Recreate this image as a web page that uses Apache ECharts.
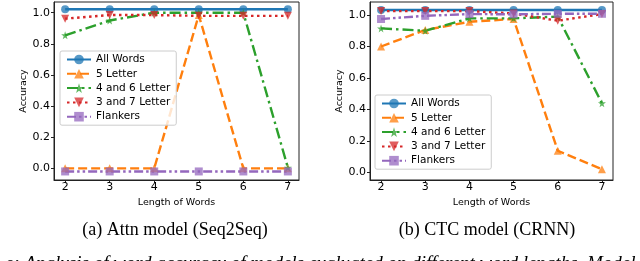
<!DOCTYPE html>
<html>
<head>
<meta charset="utf-8">
<script src="https://cdn.jsdelivr.net/npm/echarts@6/dist/echarts.min.js"></script>
<style>
html,body{margin:0;padding:0;background:#fff;}
#c{width:640px;height:261px;}
</style>
</head>
<body>
<div id="c"></div>
<script>
// ---- data ----
const lengths = [2, 3, 4, 5, 6, 7];
const xTicks = [2, 3, 4, 5, 6, 7];
const yTicks = [0, 0.2, 0.4, 0.6, 0.8, 1.0];
const seriesNames = ['All Words', '5 Letter', '4 and 6 Letter', '3 and 7 Letter', 'Flankers'];

const attnAll   = [1.022, 1.022, 1.022, 1.022, 1.022, 1.022];
const attn5     = [0.0, 0.0, 0.0, 0.985, 0.0, 0.0];
const attn46    = [0.855, 0.95, 1.0, 1.0, 1.0, 0.005];
const attn37    = [0.962, 0.985, 0.985, 0.98, 0.98, 0.98];
const attnFlank = [-0.02, -0.02, -0.02, -0.02, -0.02, -0.02];

const crnnAll   = [1.032, 1.032, 1.032, 1.032, 1.032, 1.032];
const crnn5     = [0.80, 0.905, 0.957, 0.975, 0.137, 0.02];
const crnn46    = [0.915, 0.90, 0.979, 0.979, 0.99, 0.439];
const crnn37    = [1.025, 1.025, 1.025, 1.01, 0.964, 1.006];
const crnnFlank = [0.975, 0.995, 1.006, 1.005, 1.008, 1.008];

const captionA = '(a) Attn model (Seq2Seq)';
const captionB = '(b) CTC model (CRNN)';
const figCaption = 'e: Analysis of word accuracy of models evaluated on different word lengths. Model';

// ---- styles ----
const FONT = 'DejaVu Sans';
const colors = ['#1f77b4', '#ff7f0e', '#2ca02c', '#d62728', '#9467bd'];
const dashes = ['solid', [9, 4], [11, 4, 2.5, 4], [2.5, 3.5], [9, 3, 2.5, 3, 2.5, 3]];
const starPath = 'path://M50,0 L61,35 L98,35 L68,57 L79,91 L50,70 L21,91 L32,57 L2,35 L39,35 Z';
const symbols = ['circle', 'triangle', starPath, 'triangle', 'rect'];
const rotates = [0, 0, 0, 180, 0];
const sizes = [8, 8, 8, 8, 8];

function pairs(v) { return lengths.map((x, i) => [x, v[i]]); }

function makeSeries(sets, axisIndex) {
  return sets.map((v, i) => ({
    name: seriesNames[i],
    type: 'line',
    xAxisIndex: axisIndex,
    yAxisIndex: axisIndex,
    data: pairs(v),
    symbol: symbols[i],
    symbolRotate: rotates[i],
    symbolSize: sizes[i],
    showSymbol: true,
    animation: false,
    lineStyle: { color: colors[i], width: 2.4, type: dashes[i] },
    itemStyle: { color: colors[i], opacity: 0.75 },
    emphasis: { disabled: true }
  }));
}

const grids = [
  { left: 54, top: 2, width: 245, height: 178 },
  { left: 370, top: 2, width: 243, height: 178 }
];
const yRanges = [[-0.075, 1.069], [-0.049, 1.083]];

function xAxis(i) {
  return {
    type: 'value', gridIndex: i, min: 1.75, max: 7.25,
    name: 'Length of Words', nameLocation: 'middle', nameGap: 14,
    nameTextStyle: { fontFamily: FONT, fontSize: 9.5, color: '#000' },
    axisLine: { show: true, onZero: false, lineStyle: { color: '#222', width: 1 } },
    axisTick: { show: true, customValues: xTicks, length: 3, lineStyle: { color: '#222' } },
    axisLabel: { customValues: xTicks, fontFamily: FONT, fontSize: 11, color: '#000', margin: 2 },
    splitLine: { show: false }
  };
}
function yAxis(i) {
  return {
    type: 'value', gridIndex: i, min: yRanges[i][0], max: yRanges[i][1],
    name: 'Accuracy', nameLocation: 'middle', nameGap: 23, nameRotate: 90,
    nameTextStyle: { fontFamily: FONT, fontSize: 9.5, color: '#000' },
    axisLine: { show: true, onZero: false, lineStyle: { color: '#222', width: 1 } },
    axisTick: { show: true, customValues: yTicks, length: 3, lineStyle: { color: '#222' } },
    axisLabel: { customValues: yTicks, fontFamily: FONT, fontSize: 11, color: '#000', margin: 4,
      formatter: v => v.toFixed(1) },
    splitLine: { show: false }
  };
}
function legend(left, top) {
  return {
    data: seriesNames, orient: 'vertical', left: left, top: top,
    itemWidth: 24, itemHeight: 12, itemGap: 3.3, padding: [3, 6],
    backgroundColor: 'rgba(255,255,255,0.8)', borderColor: '#ccc', borderWidth: 1, borderRadius: 2,
    textStyle: { fontFamily: FONT, fontSize: 10.5, color: '#000' },
    selectedMode: false
  };
}

const chart = echarts.init(document.getElementById('c'), null, { renderer: 'canvas' });
chart.setOption({
  animation: false,
  backgroundColor: '#fff',
  grid: grids.map(g => Object.assign({ show: true, borderColor: '#222', borderWidth: 1, backgroundColor: 'transparent' }, g)),
  xAxis: [xAxis(0), xAxis(1)],
  yAxis: [yAxis(0), yAxis(1)],
  legend: [legend(60, 51), legend(375, 95)],
  series: makeSeries([attnAll, attn5, attn46, attn37, attnFlank], 0)
    .concat(makeSeries([crnnAll, crnn5, crnn46, crnn37, crnnFlank], 1)),
  graphic: [
    { type: 'text', x: 175, y: 230, style: { text: captionA, fontFamily: 'Liberation Serif', fontSize: 18, fill: '#000', align: 'center', verticalAlign: 'middle' } },
    { type: 'text', x: 487, y: 230, style: { text: captionB, fontFamily: 'Liberation Serif', fontSize: 18, fill: '#000', align: 'center', verticalAlign: 'middle' } },
    { type: 'text', left: 5, top: 254, style: { text: figCaption, fontFamily: 'Liberation Serif', fontStyle: 'italic', fontSize: 19, fill: '#000' } }
  ]
});
</script>
</body>
</html>
